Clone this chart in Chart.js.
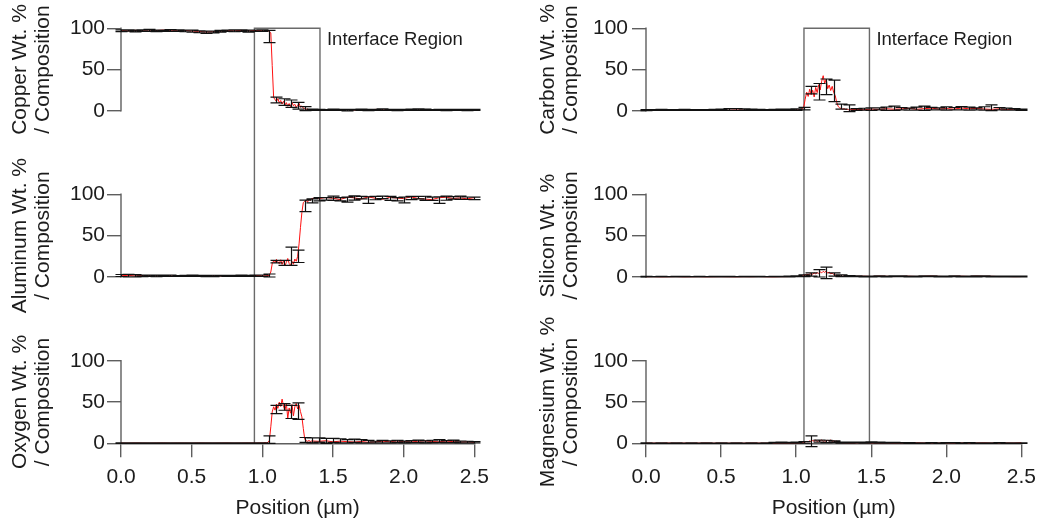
<!DOCTYPE html>
<html>
<head>
<meta charset="utf-8">
<script src="https://cdn.jsdelivr.net/npm/chart.js@4.4.0/dist/chart.umd.min.js"></script>
<style>
  body { margin: 0; background: #fff; }
  #wrap { position: relative; width: 1043px; height: 525px; overflow: hidden; }
  #wrap canvas { position: absolute; top: 0; }
</style>
</head>
<body>
<div id="wrap">
  <canvas id="leftCol" width="505" height="525" style="left:0"></canvas>
  <canvas id="rightCol" width="523" height="525" style="left:520px"></canvas>
</div>
<script>
// positions (µm) of the raw red profile
const redX = [
  0, 0.05, 0.1, 0.15, 0.2, 0.25, 0.3, 0.35, 0.4, 0.45, 0.5, 0.55, 0.6, 0.65, 0.7, 0.75, 0.8, 0.85, 0.9, 0.95, 1.0,
  1.01, 1.02, 1.03, 1.04, 1.05, 1.06, 1.07, 1.08, 1.09, 1.1, 1.11, 1.12, 1.13, 1.14, 1.15, 1.16, 1.17, 1.18,
  1.19, 1.2, 1.21, 1.22, 1.23, 1.24, 1.25, 1.26, 1.27, 1.28, 1.29, 1.3, 1.31, 1.32, 1.33, 1.34, 1.35,
  1.4, 1.45, 1.5, 1.55, 1.6, 1.65, 1.7, 1.75, 1.8, 1.85, 1.9, 1.95, 2.0, 2.05, 2.1, 2.15, 2.2, 2.25, 2.3, 2.35, 2.4, 2.45, 2.5
];

// positions (µm) of the averaged black points with error bars
const blackX = [
  0, 0.05, 0.1, 0.15, 0.2, 0.25, 0.3, 0.35, 0.4, 0.45, 0.5, 0.55, 0.6, 0.65, 0.7, 0.75, 0.8, 0.85, 0.9, 0.95,
  1.0, 1.05, 1.1, 1.15, 1.2, 1.25, 1.3, 1.35, 1.4, 1.45, 1.5, 1.55, 1.6, 1.65, 1.7, 1.75, 1.8, 1.85, 1.9, 1.95,
  2.0, 2.05, 2.1, 2.15, 2.2, 2.25, 2.3, 2.35, 2.4, 2.45, 2.5
];

// interface region bounds (µm), left and right column
const interfaceLeft = [0.944, 1.408];
const interfaceRight = [1.052, 1.488];

// Copper
const cuRed = [
  97.2, 96.8, 97.5, 97.0, 96.6, 97.3, 97.8, 96.9, 97.1, 97.4, 96.7, 96.2, 95.4, 95.8, 96.5, 97.2, 96.9, 97.5, 96.8, 97.3, 97.0,
  96.8, 97.4, 96.5, 97.1, 96.0, 94.5, 55.0, 16.0, 13.5, 11.2, 14.8, 9.6, 12.4, 8.1, 11.5, 6.9, 9.8, 5.4,
  8.7, 4.9, 10.2, 6.1, 7.8, 3.9, 6.6, 8.9, 4.2, 5.8, 3.1, 2.4, 1.5, 2.2, 1.1, 1.4, 0.9,
  0.8, 1.2, 0.6, 1.0, 1.5, 0.7, 1.1, 0.9, 1.6, 0.8, 1.2, 0.5, 1.4, 1.0, 0.7, 1.3, 0.9, 1.1, 0.6, 1.5, 0.8, 1.0, 0.7
];
const cuMean = [
  97.0, 97.2, 96.8, 97.1, 97.4, 96.9, 97.0, 97.3, 97.1, 96.8, 96.5, 95.8, 95.2, 95.6, 96.4, 97.0, 96.9, 97.2, 96.6, 97.0,
  97.1, 90.0, 13.0, 10.5, 8.5, 6.0, 2.5, 1.2, 1.0, 0.9, 1.1, 1.0, 0.8, 1.2, 1.1, 0.9, 1.0, 1.3, 1.1, 0.8,
  1.0, 1.2, 1.4, 1.1, 0.9, 1.0, 0.8, 1.1, 1.0, 0.9, 1.0
];
const cuErr = [
  1.0, 0.8, 1.1, 0.9, 1.2, 1.0, 0.8, 1.1, 0.9, 1.0, 1.3, 1.2, 1.4, 1.1, 1.0, 0.9, 1.1, 1.0, 1.2, 0.9,
  1.0, 7.5, 3.5, 4.0, 4.5, 4.0, 2.5, 0.8, 0.7, 0.6, 0.8, 0.7, 0.9, 0.6, 0.8, 0.7, 0.6, 0.9, 0.7, 0.8,
  0.6, 0.7, 0.9, 0.8, 0.6, 0.7, 0.8, 0.6, 0.7, 0.8, 0.6
];

// Aluminum
const alRed = [
  1.5, 2.0, 1.2, 1.8, 1.4, 1.1, 1.6, 1.3, 1.0, 1.5, 1.2, 1.7, 1.1, 1.4, 1.3, 1.0, 1.6, 1.2, 1.5, 1.8, 1.4,
  1.6, 1.3, 1.9, 1.5, 2.4, 6.0, 16.0, 19.5, 17.2, 21.3, 18.4, 16.1, 20.8, 15.2, 19.6, 13.8, 17.5, 22.4,
  16.3, 14.1, 18.9, 15.4, 21.7, 19.0, 25.0, 40.0, 60.0, 78.0, 90.0, 91.5, 93.2, 90.4, 94.1, 92.6, 95.0,
  94.8, 96.1, 95.2, 93.6, 96.4, 95.7, 94.3, 96.8, 95.1, 93.9, 96.2, 95.5, 94.7, 96.9, 95.0, 94.2, 93.5, 95.8, 96.5, 94.9, 95.6, 94.4, 96.0
];
const alMean = [
  1.8, 1.6, 1.5, 1.4, 1.6, 1.3, 1.5, 1.4, 1.2, 1.3, 1.5, 1.4, 1.2, 1.3, 1.5, 1.4, 1.3, 1.5, 1.4, 1.6,
  1.5, 1.8, 18.5, 17.0, 25.0, 25.0, 86.0, 92.0, 94.0, 94.5, 95.2, 94.0, 93.5, 95.5, 96.0, 93.0, 95.4, 96.2, 95.0, 94.0,
  93.2, 95.5, 96.0, 95.1, 94.5, 93.0, 95.3, 95.6, 95.8, 95.2, 95.0
];
const alErr = [
  1.2, 1.5, 1.4, 0.9, 0.8, 1.0, 0.7, 0.8, 0.6, 0.7, 0.8, 0.6, 0.7, 0.8, 0.6, 0.7, 0.6, 0.8, 0.7, 0.8,
  0.9, 1.8, 1.5, 3.0, 11.0, 7.5, 7.0, 2.5, 2.0, 1.5, 2.5, 2.0, 3.0, 2.5, 1.5, 4.0, 2.0, 1.5, 2.5, 2.0,
  3.5, 2.0, 1.5, 2.5, 2.0, 4.0, 2.5, 1.5, 2.0, 1.5, 1.5
];

// Oxygen
const oxRed = [
  0.2, 0.1, 0.3, 0.2, 0.1, 0.2, 0.3, 0.1, 0.2, 0.2, 0.1, 0.3, 0.2, 0.1, 0.2, 0.3, 0.1, 0.2, 0.3, 0.2, 0.4,
  0.5, 0.8, 0.6, 1.2, 3.5, 20.0, 38.0, 44.2, 40.1, 47.5, 42.3, 49.8, 44.6, 53.5, 45.2, 39.8, 48.6, 30.4,
  42.8, 36.5, 46.9, 33.2, 44.1, 48.3, 41.6, 46.2, 38.4, 32.0, 18.0, 5.2, 3.1, 2.5, 3.4, 2.2, 2.8,
  2.4, 3.1, 1.8, 2.6, 2.0, 1.5, 2.2, 1.2, 1.7, 2.5, 1.9, 2.8, 2.1, 1.6, 2.4, 3.0, 2.2, 1.8, 2.7, 2.0, 1.4, 1.8, 1.1
];
const oxMean = [
  0.2, 0.1, 0.2, 0.1, 0.2, 0.1, 0.2, 0.2, 0.1, 0.2, 0.1, 0.2, 0.1, 0.2, 0.2, 0.1, 0.2, 0.1, 0.2, 0.2,
  0.3, 4.5, 41.0, 44.0, 38.0, 39.0, 4.0, 3.5, 4.0, 3.0, 3.5, 3.0, 2.5, 3.0, 2.5, 2.0, 1.5, 2.0, 1.8, 2.2,
  1.6, 2.0, 2.4, 1.8, 2.2, 2.8, 2.0, 2.4, 1.6, 1.5, 1.4
];
const oxErr = [
  0.3, 0.3, 0.3, 0.3, 0.3, 0.3, 0.3, 0.3, 0.3, 0.3, 0.3, 0.3, 0.3, 0.3, 0.3, 0.3, 0.3, 0.3, 0.3, 0.3,
  0.3, 4.5, 5.0, 4.0, 8.0, 10.0, 3.0, 3.0, 2.5, 3.0, 2.5, 2.5, 2.0, 2.0, 2.0, 1.5, 1.0, 1.5, 1.2, 1.5,
  1.0, 1.2, 1.5, 1.2, 1.5, 1.8, 1.2, 1.5, 1.0, 1.0, 0.8
];

// Carbon
const cRed = [
  0.5, 0.8, 0.3, 0.6, 0.4, 0.7, 0.5, 0.3, 0.6, 0.4, 0.8, 0.5, 0.9, 0.7, 0.6, 0.4, 0.5, 0.8, 0.6, 0.7, 1.0,
  1.2, 0.9, 1.5, 2.0, 4.0, 14.0, 22.5, 17.3, 26.1, 19.4, 24.8, 16.7, 28.3, 21.9, 31.5, 25.2, 35.8, 42.5,
  33.1, 38.4, 26.7, 31.2, 24.5, 29.6, 22.0, 18.5, 10.2, 5.1, 3.4, 2.6, 1.9, 2.4, 1.5, 1.8, 1.2,
  1.5, 1.2, 2.0, 1.6, 2.4, 1.8, 2.2, 2.9, 1.7, 2.5, 3.1, 2.0, 2.6, 1.9, 3.3, 2.4, 2.8, 2.1, 1.6, 2.3, 1.4, 1.9, 0.9
];
const cMean = [
  0.8, 0.9, 1.0, 0.8, 0.9, 1.0, 0.9, 0.8, 0.9, 1.0, 1.1, 1.5, 1.6, 1.4, 1.2, 1.0, 0.9, 1.0, 1.1, 1.2,
  1.4, 2.5, 25.0, 23.0, 29.0, 24.0, 5.0, 3.0, 1.5, 1.8, 2.0, 2.2, 2.5, 3.0, 2.4, 2.0, 2.6, 3.0, 2.5, 2.2,
  2.8, 2.4, 3.0, 2.6, 2.2, 2.8, 3.5, 2.4, 2.0, 1.6, 1.2
];
const cErr = [
  0.7, 0.6, 0.7, 0.5, 0.6, 0.7, 0.6, 0.5, 0.6, 0.7, 0.8, 1.0, 1.1, 0.9, 0.8, 0.7, 0.6, 0.7, 0.8, 0.8,
  0.9, 1.5, 4.5, 10.0, 9.5, 13.0, 3.0, 4.0, 1.0, 1.2, 1.5, 1.2, 2.0, 2.5, 1.5, 1.2, 1.8, 2.5, 1.5, 1.2,
  2.0, 1.5, 2.0, 1.8, 1.2, 2.0, 3.5, 1.5, 1.2, 1.0, 0.8
];

// Silicon
const siRed = [
  0.3, 0.4, 0.2, 0.3, 0.5, 0.2, 0.3, 0.4, 0.2, 0.3, 0.4, 0.3, 0.2, 0.4, 0.3, 0.5, 0.3, 0.2, 0.4, 0.5, 0.6,
  0.5, 0.8, 1.2, 1.5, 2.0, 2.5, 3.2, 2.8, 3.6, 4.1, 3.3, 4.8, 3.9, 5.2, 4.4, 6.1, 5.0, 6.8,
  5.5, 7.2, 4.6, 5.9, 3.8, 4.5, 3.1, 2.4, 1.8, 1.5, 1.2, 1.0, 0.9, 1.1, 0.8, 0.7, 0.9,
  0.7, 0.9, 0.6, 1.0, 0.8, 0.5, 0.7, 0.9, 0.6, 0.8, 1.1, 0.7, 0.5, 0.8, 0.9, 0.6, 1.0, 0.7, 0.8, 0.5, 0.6, 0.4, 0.5
];
const siMean = [
  0.4, 0.3, 0.4, 0.3, 0.4, 0.5, 0.3, 0.4, 0.3, 0.4, 0.5, 0.4, 0.3, 0.4, 0.5, 0.4, 0.3, 0.4, 0.5, 0.6,
  0.8, 1.5, 3.0, 4.5, 5.0, 3.0, 1.5, 1.0, 0.8, 0.7, 0.6, 0.8, 0.7, 0.9, 0.8, 0.7, 0.6, 0.8, 0.9, 0.7,
  0.6, 0.8, 0.7, 0.6, 0.8, 0.9, 0.7, 0.6, 0.5, 0.6, 0.5
];
const siErr = [
  0.3, 0.3, 0.3, 0.3, 0.3, 0.3, 0.3, 0.3, 0.3, 0.3, 0.3, 0.3, 0.3, 0.3, 0.3, 0.3, 0.3, 0.3, 0.3, 0.4,
  0.5, 1.0, 2.0, 4.5, 7.0, 2.0, 1.0, 0.6, 0.5, 0.5, 0.5, 0.5, 0.5, 0.6, 0.5, 0.5, 0.5, 0.5, 0.6, 0.5,
  0.5, 0.5, 0.5, 0.5, 0.6, 0.5, 0.5, 0.5, 0.5, 0.5, 0.5
];

// Magnesium
const mgRed = [
  0.1, 0.2, 0.1, 0.3, 0.1, 0.2, 0.1, 0.2, 0.3, 0.1, 0.2, 0.1, 0.2, 0.1, 0.3, 0.2, 0.1, 0.2, 0.4, 0.3, 0.4,
  0.5, 0.3, 0.6, 0.8, 1.2, 1.6, 2.2, 1.8, 2.9, 2.1, 3.4, 2.5, 3.8, 2.2, 3.1, 2.7, 4.0, 2.4,
  3.3, 2.0, 3.6, 2.8, 3.9, 2.3, 3.0, 2.1, 2.6, 1.7, 1.2, 0.9, 0.6, 0.8, 0.5, 0.7, 0.4,
  0.6, 0.9, 0.5, 0.4, 0.7, 0.3, 0.5, 0.4, 0.6, 0.3, 0.4, 0.2, 0.5, 0.3, 0.4, 0.2, 0.3, 0.5, 0.2, 0.4, 0.3, 0.2, 0.6
];
const mgMean = [
  0.2, 0.1, 0.2, 0.1, 0.2, 0.1, 0.2, 0.1, 0.2, 0.1, 0.2, 0.1, 0.2, 0.1, 0.2, 0.1, 0.2, 0.6, 0.8, 0.7,
  0.9, 1.2, 2.5, 2.6, 2.2, 2.0, 0.8, 0.9, 1.0, 0.8, 1.1, 0.9, 0.7, 0.6, 0.5, 0.4, 0.3, 0.3, 0.4, 0.3,
  0.5, 0.4, 0.3, 0.4, 0.3, 0.2, 0.3, 0.4, 0.3, 0.2, 0.3
];
const mgErr = [
  0.2, 0.2, 0.2, 0.2, 0.2, 0.2, 0.2, 0.2, 0.2, 0.2, 0.2, 0.2, 0.2, 0.2, 0.2, 0.2, 0.2, 0.5, 0.6, 0.5,
  0.6, 1.0, 6.5, 1.2, 1.5, 1.0, 0.6, 0.6, 0.6, 0.6, 0.6, 0.6, 0.5, 0.5, 0.4, 0.4, 0.3, 0.3, 0.3, 0.3,
  0.3, 0.3, 0.3, 0.3, 0.3, 0.3, 0.3, 0.3, 0.3, 0.3, 0.3
];

const yTicks = [0, 50, 100];
const xTicks = [0, 0.5, 1.0, 1.5, 2.0, 2.5];

const AXIS = '#5e5e5e';
const TEXT = '#1c1c1c';
const FONT = "'Liberation Sans', Arial, sans-serif";
const FONT_SIZE = 21;
Chart.defaults.font.family = FONT;
Chart.defaults.color = TEXT;

// the three panels of a column are three stacked y axes; each axis box also holds the gap below/above it
const bands = [
  { stackWeight: 124.2, min: -50.7, max: 100 },
  { stackWeight: 166.5, min: -50.8, max: 150.5 },
  { stackWeight: 124.3, min: 0, max: 150.5 }
];
const columns = {
  L: { yWidth: 121, titleX: 20, tickPad: 2, padRight: 30.7, band: interfaceLeft },
  R: { yWidth: 126, titleX: 28, tickPad: 4, padRight: 20.7, band: interfaceRight }
};

const columnDecor = {
  id: 'columnDecor',
  beforeDatasetsDraw(chart, args, opts) {
    const { ctx, chartArea, scales } = chart;
    const x = scales.x;
    ctx.save();
    // y axis lines, only over 0..100
    ctx.strokeStyle = AXIS;
    ctx.lineWidth = 1.4;
    ctx.beginPath();
    for (let i = 0; i < 3; i++) {
      const ys = scales['y' + i];
      ctx.moveTo(chartArea.left, ys.getPixelForValue(0) + 0.7);
      ctx.lineTo(chartArea.left, ys.getPixelForValue(100) - 0.7);
    }
    ctx.stroke();
    // interface rectangle through the whole column
    const x0 = x.getPixelForValue(opts.band[0]);
    const x1 = x.getPixelForValue(opts.band[1]);
    const yTop = scales.y0.getPixelForValue(100);
    const yBot = scales.y2.getPixelForValue(0);
    ctx.strokeStyle = '#6a6a6a';
    ctx.beginPath();
    ctx.moveTo(x0, yBot);
    ctx.lineTo(x0, yTop);
    ctx.lineTo(x1, yTop);
    ctx.lineTo(x1, yBot);
    ctx.stroke();
    ctx.fillStyle = TEXT;
    ctx.font = '18.5px ' + FONT;
    ctx.textAlign = 'left';
    ctx.textBaseline = 'middle';
    ctx.fillText('Interface Region', x1 + 7, yTop + 12);
    ctx.restore();
  },
  afterDatasetsDraw(chart, args, opts) {
    const { ctx, scales } = chart;
    const x = scales.x;
    ctx.save();
    ctx.strokeStyle = '#111';
    ctx.lineWidth = 1.2;
    ctx.beginPath();
    opts.panels.forEach((p, k) => {
      const ys = scales['y' + k];
      for (let i = 0; i < blackX.length; i++) {
        const px = Math.round(x.getPixelForValue(blackX[i])) + 0.5;
        const lo = ys.getPixelForValue(p.mean[i] - p.err[i]);
        const hi = ys.getPixelForValue(p.mean[i] + p.err[i]);
        ctx.moveTo(px, lo);
        ctx.lineTo(px, hi);
        ctx.moveTo(px - 6, hi);
        ctx.lineTo(px + 6, hi);
        ctx.moveTo(px - 6, lo);
        ctx.lineTo(px + 6, lo);
      }
    });
    ctx.stroke();
    ctx.restore();
  },
  afterDraw(chart, args, opts) {
    const { ctx, scales } = chart;
    ctx.save();
    ctx.fillStyle = TEXT;
    ctx.font = FONT_SIZE + 'px ' + FONT;
    ctx.textAlign = 'center';
    ctx.textBaseline = 'middle';
    opts.panels.forEach((p, k) => {
      const ys = scales['y' + k];
      const mid = (ys.getPixelForValue(0) + ys.getPixelForValue(100)) / 2;
      ctx.save();
      ctx.translate(opts.titleX, mid);
      ctx.rotate(-Math.PI / 2);
      ctx.fillText(p.title[0], 0, 0);
      ctx.fillText(p.title[1], 0, 23);
      ctx.restore();
    });
    ctx.restore();
  }
};

function makeColumn(id, col, panels) {
  const c = columns[col];
  const scales = {
    x: {
      type: 'linear',
      min: 0,
      max: 2.5,
      afterFit(s) { s.height = 81.7; },
      afterBuildTicks(s) { s.ticks = xTicks.map(v => ({ value: v })); },
      ticks: {
        padding: 7,
        maxRotation: 0,
        autoSkip: false,
        font: { size: FONT_SIZE },
        color: TEXT,
        callback: v => Number(v).toFixed(1)
      },
      grid: { drawOnChartArea: false, tickLength: 14, color: AXIS, lineWidth: 1.4 },
      border: { color: AXIS, width: 1.4 },
      title: {
        display: true,
        text: 'Position (µm)',
        font: { size: FONT_SIZE },
        color: TEXT,
        padding: { top: 0, bottom: 4.5 }
      }
    }
  };
  bands.forEach((b, i) => {
    scales['y' + i] = {
      type: 'linear',
      position: 'left',
      stack: 'col',
      stackWeight: b.stackWeight,
      weight: 3 - i,
      min: b.min,
      max: b.max,
      afterFit(s) { s.width = c.yWidth; },
      afterBuildTicks(s) { s.ticks = yTicks.map(v => ({ value: v })); },
      ticks: { padding: c.tickPad, font: { size: FONT_SIZE }, color: TEXT },
      grid: { drawOnChartArea: false, tickLength: 14, color: AXIS, lineWidth: 1.4 },
      border: { display: false }
    };
  });

  new Chart(document.getElementById(id), {
    type: 'line',
    data: {
      datasets: panels.map((p, k) => ({
        data: redX.map((v, i) => ({ x: v, y: p.red[i] })),
        yAxisID: 'y' + k,
        borderColor: '#ff1010',
        borderWidth: 1,
        pointRadius: 0,
        tension: 0,
        clip: false
      }))
    },
    options: {
      responsive: false,
      animation: false,
      events: [],
      layout: { padding: { left: 0, right: c.padRight, top: 28.3, bottom: 0 } },
      plugins: {
        legend: { display: false },
        tooltip: { enabled: false },
        columnDecor: { band: c.band, titleX: c.titleX, panels: panels }
      },
      scales: scales
    },
    plugins: [columnDecor]
  });
}

makeColumn('leftCol', 'L', [
  { title: ['Copper Wt. %', '/ Composition'], red: cuRed, mean: cuMean, err: cuErr },
  { title: ['Aluminum Wt. %', '/ Composition'], red: alRed, mean: alMean, err: alErr },
  { title: ['Oxygen Wt. %', '/ Composition'], red: oxRed, mean: oxMean, err: oxErr }
]);
makeColumn('rightCol', 'R', [
  { title: ['Carbon Wt. %', '/ Composition'], red: cRed, mean: cMean, err: cErr },
  { title: ['Silicon Wt. %', '/ Composition'], red: siRed, mean: siMean, err: siErr },
  { title: ['Magnesium Wt. %', '/ Composition'], red: mgRed, mean: mgMean, err: mgErr }
]);
</script>
</body>
</html>
